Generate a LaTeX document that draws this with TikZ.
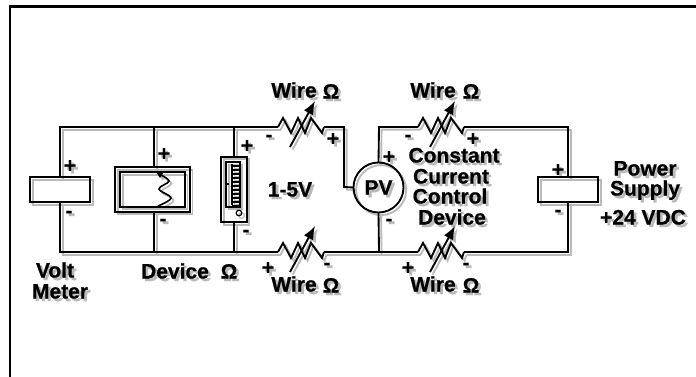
\documentclass[tikz,border=0pt]{standalone}
\usepackage{fontspec}
\setmainfont{Liberation Sans}[BoldFeatures={FakeBold=0.6}]
\usetikzlibrary{arrows.meta}
\colorlet{ink}{black}
\newcommand{\lblfont}{\fontsize{15.75}{16}\selectfont\bfseries}
\newcommand{\ohm}{{\fontsize{15.5}{16}\selectfont\bfseries Ω}}
\tikzset{
  wire/.style={draw=ink,line width=1.4pt,line join=miter},
  box/.style={draw=ink,line width=1.4pt,inner sep=0pt,outer sep=0pt,rectangle},
  lbl/.style={text=ink,inner sep=0pt,outer sep=0pt,font=\lblfont,text height=11.3pt,text depth=0pt,anchor=center},
}
% resistor with a variable-value arrow: name, left x, wire y
\newcommand{\rheo}[3]{%
  \coordinate (#1in) at (#2,#3);
  \coordinate (#1out) at (#2+46,#3);
  \coordinate (#1tail) at (#2+12,#3+20);
  \coordinate (#1head) at (#2+37,#3-26);
  \draw[wire] (#1in) -- ++(5,-9) -- ++(8,15) -- ++(7,-15) -- ++(7,15) -- ++(6,-15) -- ++(11,15) -- (#1out);
  \draw[wire,-{Latex[length=10pt,width=8pt]}] (#1tail) -- (#1head);
}
\newcommand{\circuit}[1]{%
  \colorlet{ink}{#1}%
  % junctions
  \coordinate (tl) at (60,127);
  \coordinate (bl) at (60,252);
  \coordinate (td) at (154,127);
  \coordinate (bd) at (154,252);
  \coordinate (tm) at (234,127);
  \coordinate (bm) at (234,252);
  \coordinate (tc) at (344,127);
  \coordinate (mc) at (344,187);
  \coordinate (tp) at (379,127);
  \coordinate (bp) at (379,252);
  \coordinate (tr) at (568,127);
  \coordinate (br) at (568,252);
  % elements
  \node[box,minimum width=45pt,minimum height=18.75pt] (volt) at (60,189.5) {};
  \node[box,minimum width=56pt,minimum height=33.5pt] (dev) at (152.5,189.5) {};
  \node[box,minimum width=48.5pt,minimum height=26pt] (devin) at (152.5,189.5) {};
  \node[box,minimum width=19pt,minimum height=49pt] (meter) at (234,189.5) {};
  \node[box,minimum width=10pt,minimum height=33.5pt] (scale) at (233,184.5) {};
  \node[box,circle,minimum size=37.5pt,text=ink,font=\lblfont] (pv) at (378.5,187.5) {PV};
  \node[box,minimum width=45pt,minimum height=18.75pt] (ps) at (568,189.5) {};
  \rheo{ra}{278}{127}
  \rheo{rb}{278}{252}
  \rheo{rc}{418}{127}
  \rheo{rd}{418}{252}
  % connectors
  \draw[wire] (volt.north) -- (tl) -- (td) -- (tm) -- (rain);
  \draw[wire] (volt.south) -- (bl) -- (bd) -- (bm) -- (rbin);
  \draw[wire] (dev.north -| td) -- (td);
  \draw[wire] (dev.south -| bd) -- (bd);
  \draw[wire] (meter.north) -- (tm);
  \draw[wire] (meter.south) -- (bm);
  \draw[wire] (raout) -- (tc) -- (mc) -- (pv.west);
  \draw[wire] (rbout) -- (bp) -- (rdin);
  \draw[wire] (pv.north) -- (tp) -- (rcin);
  \draw[wire] (pv.south) -- (bp);
  \draw[wire] (rcout) -- (tr) -- (ps.north);
  \draw[wire] (rdout) -- (br) -- (ps.south);
  % device resistor
  \draw[wire,line width=1.2pt] plot[smooth,tension=.6] coordinates {(159,174) (169,181) (159,189) (171,198) (158,206)};
  \fill[ink] (156,172) -- (164,172) -- (160,178) -- cycle;
  % meter scale
  \foreach \ty in {166,170,...,206} {\draw[draw=ink,line width=.9pt] (232,\ty) -- (239,\ty);}
  \draw[draw=ink,line width=.9pt] (232,164) -- (232,205);
  \draw[draw=ink,line width=1pt] (226,184) -- (229,184);
  \node[box,circle,minimum size=4.2pt,line width=.9pt] (knob) at (239,213) {};
  % labels
  \node[lbl] (p1) at (70,165) {+};
  \node[lbl] (m1) at (69,210) {-};
  \node[lbl] (p2) at (164,153) {+};
  \node[lbl] (m2) at (163,218) {-};
  \node[lbl] (p3) at (247,145) {+};
  \node[lbl] (m3) at (246,229) {-};
  \node[lbl] (m4) at (269,134) {-};
  \node[lbl] (p4) at (333,138) {+};
  \node[lbl] (v15) at (290,189) {1-5V};
  \node[lbl] (vm1) at (55,270) {Volt};
  \node[lbl] (vm2) at (60,291) {Meter};
  \node[lbl] (devl) at (175,271) {Device};
  \node[lbl] (devo) at (229,271) {\ohm};
  \node[lbl] (p5) at (268,267) {+};
  \node[lbl] (m5) at (327,262) {-};
  \node[lbl] (wa) at (294,90) {Wire};
  \node[lbl] (oa) at (331,91) {\ohm};
  \node[lbl] (wb) at (294,284) {Wire};
  \node[lbl] (ob) at (331,285) {\ohm};
  \node[lbl] (wc) at (433,90) {Wire};
  \node[lbl] (oc) at (471,91) {\ohm};
  \node[lbl] (wd) at (433,284) {Wire};
  \node[lbl] (od) at (471,285) {\ohm};
  \node[lbl] (m6) at (408,134) {-};
  \node[lbl] (p6) at (473,138) {+};
  \node[lbl] (p7) at (389,156) {+};
  \node[lbl] (m7) at (389,218) {-};
  \node[lbl] (cc1) at (454,155) {Constant};
  \node[lbl] (cc2) at (451,176) {Current};
  \node[lbl] (cc3) at (450,196) {Control};
  \node[lbl] (cc4) at (452,217) {Device};
  \node[lbl] (p8) at (558,169) {+};
  \node[lbl] (m8) at (558,209) {-};
  \node[lbl] (ps1) at (645,168) {Power};
  \node[lbl] (ps2) at (645,188) {Supply};
  \node[lbl] (ps3) at (643,217) {+24 VDC};
  \node[lbl] (p9) at (408,267) {+};
  \node[lbl] (m9) at (466,262) {-};
}
\begin{document}
\begin{tikzpicture}[x=.75pt,y=-.75pt]
  \useasboundingbox (0,0) rectangle (696,377);
  \fill[white] (0,0) rectangle (696,377);
  \begin{scope}[shift={(2.6,2.6)}]
    \circuit{black!27}
  \end{scope}
  \circuit{black}
  \coordinate (frametl) at (10,6.5);
  \coordinate (frametr) at (696,6.5);
  \coordinate (framebl) at (10,377);
  \draw[black,line width=2.2pt] (frametr) -- (9,6.5);
  \draw[black,line width=1.9pt] (frametl) -- (framebl);
\end{tikzpicture}
\end{document}
